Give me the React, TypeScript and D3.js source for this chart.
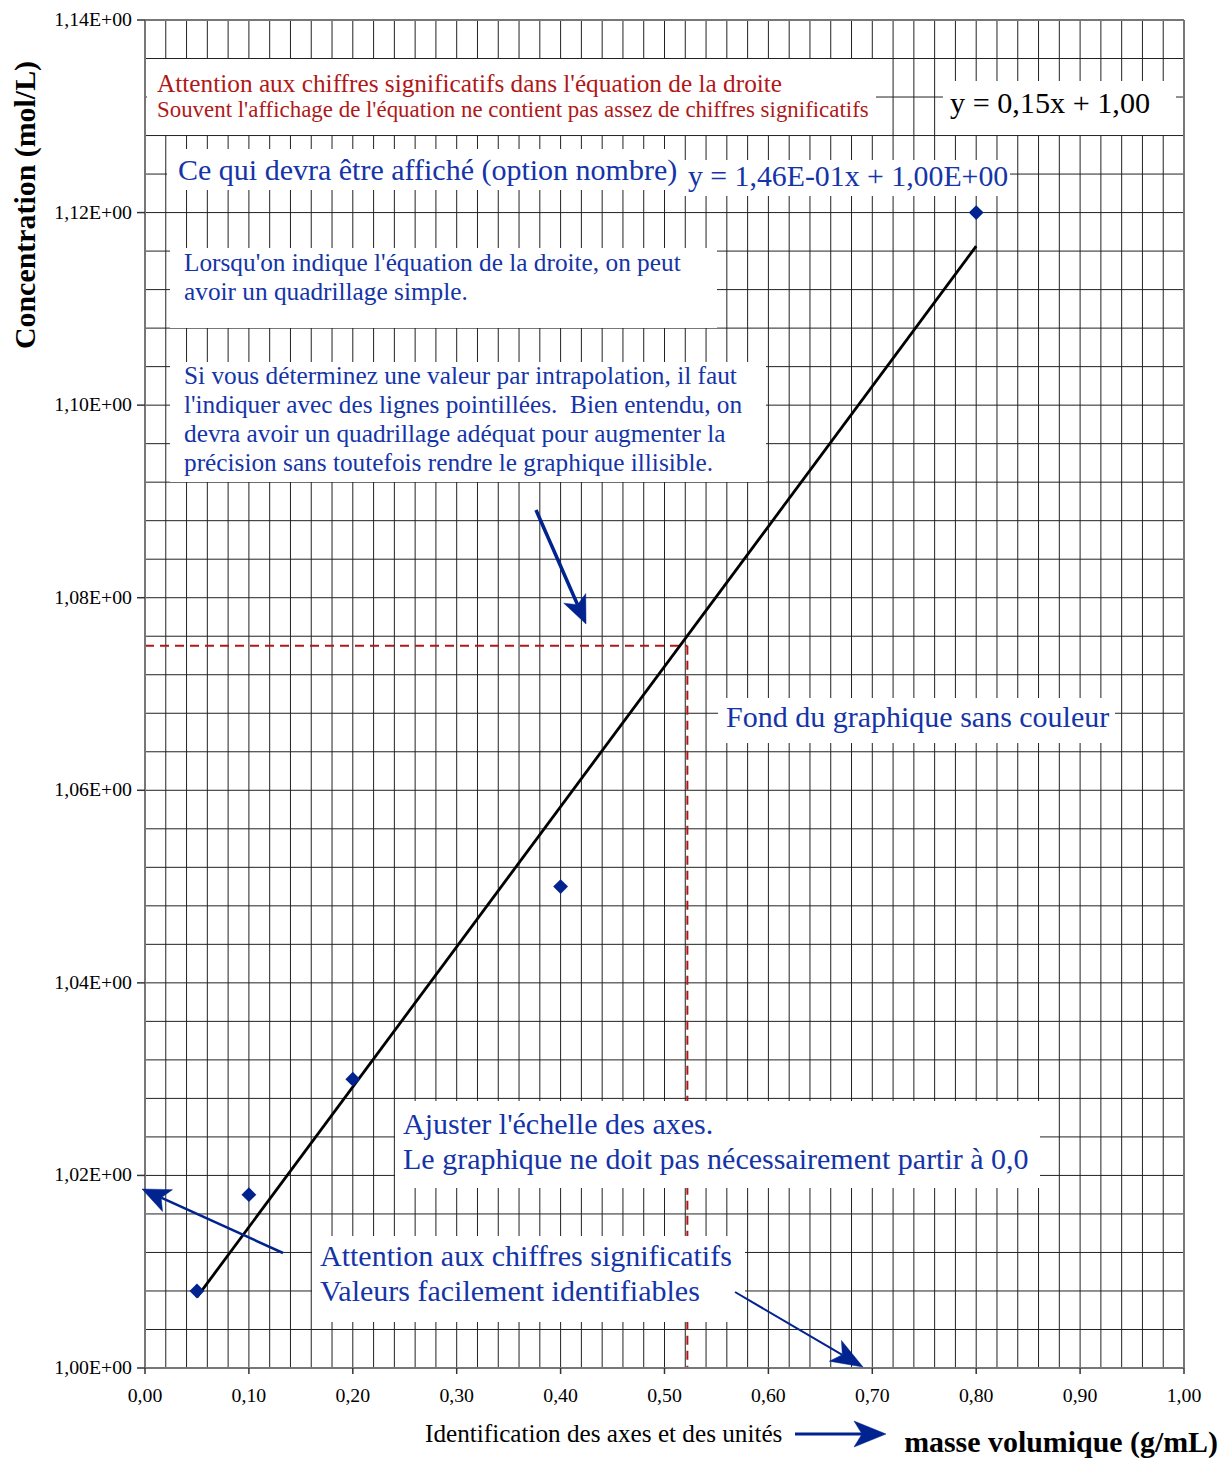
import React from "react";
import * as d3 from "d3";

// ---- data ----
const massX: number[] = [0.05, 0.1, 0.2, 0.4, 0.8];
const concY: number[] = [1.008, 1.018, 1.03, 1.05, 1.12];
const xTicks: number[] = [0, 0.1, 0.2, 0.3, 0.4, 0.5, 0.6, 0.7, 0.8, 0.9, 1.0];
const yTicks: number[] = [1.0, 1.02, 1.04, 1.06, 1.08, 1.1, 1.12, 1.14];
const interpPoint: [number, number] = [0.522, 1.075];

const W = 1224;
const H = 1458;
const FONT = "'Liberation Serif', 'Times New Roman', serif";
const BLUE = "#1434a8";
const RED = "#b01818";
const NAVY = "#00238f";

const S = 25.3; // small annotation size
const L = 30; // large annotation size

type Box = {
  x0: number; x1: number; y0: number; y1: number;
  lines: { t: string; x: number; y: number; size: number; color: string }[];
};

const boxes: Box[] = [
  {
    x0: 147, x1: 876, y0: 59, y1: 135,
    lines: [
      { t: "Attention aux chiffres significatifs dans l'équation de la droite", x: 157, y: 92, size: S, color: RED },
      { t: "Souvent l'affichage de l'équation ne contient pas assez de chiffres significatifs", x: 157, y: 117, size: 22.9, color: RED },
    ],
  },
  {
    x0: 943, x1: 1176, y0: 81, y1: 135,
    lines: [{ t: "y = 0,15x + 1,00", x: 950, y: 113, size: 30.2, color: "#000" }],
  },
  {
    x0: 167, x1: 683, y0: 149, y1: 190,
    lines: [{ t: "Ce qui devra être affiché (option nombre)", x: 178, y: 180, size: L, color: BLUE }],
  },
  {
    x0: 683, x1: 1010, y0: 160, y1: 196,
    lines: [{ t: "y = 1,46E-01x + 1,00E+00", x: 688, y: 186, size: 29.8, color: BLUE }],
  },
  {
    x0: 170, x1: 717, y0: 248, y1: 328,
    lines: [
      { t: "Lorsqu'on indique l'équation de la droite, on peut", x: 184, y: 271, size: S, color: BLUE },
      { t: "avoir un quadrillage simple.", x: 184, y: 300, size: S, color: BLUE },
    ],
  },
  {
    x0: 170, x1: 766, y0: 362, y1: 482,
    lines: [
      { t: "Si vous déterminez une valeur par intrapolation, il faut", x: 184, y: 384, size: S, color: BLUE },
      { t: "l'indiquer avec des lignes pointillées.  Bien entendu, on", x: 184, y: 413, size: S, color: BLUE },
      { t: "devra avoir un quadrillage adéquat pour augmenter la", x: 184, y: 442, size: S, color: BLUE },
      { t: "précision sans toutefois rendre le graphique illisible.", x: 184, y: 471, size: S, color: BLUE },
    ],
  },
  {
    x0: 718, x1: 1115, y0: 698, y1: 743,
    lines: [{ t: "Fond du graphique sans couleur", x: 726, y: 727, size: L, color: BLUE }],
  },
  {
    x0: 395, x1: 1040, y0: 1101, y1: 1188,
    lines: [
      { t: "Ajuster l'échelle des axes.", x: 403, y: 1134, size: L, color: BLUE },
      { t: "Le graphique ne doit pas nécessairement partir à 0,0", x: 403, y: 1169, size: L, color: BLUE },
    ],
  },
  {
    x0: 312, x1: 745, y0: 1236, y1: 1322,
    lines: [
      { t: "Attention aux chiffres significatifs", x: 320, y: 1266, size: L, color: BLUE },
      { t: "Valeurs facilement identifiables", x: 320, y: 1301, size: L, color: BLUE },
    ],
  },
];

const arrows = [
  { x1: 536, y1: 510, x2: 586, y2: 624, w: 3.5, hl: 28, hw: 24 },
  { x1: 283, y1: 1253, x2: 142, y2: 1189, w: 2.5, hl: 28, hw: 24 },
  { x1: 735, y1: 1292, x2: 863, y2: 1367, w: 2, hl: 32, hw: 24 },
  { x1: 795, y1: 1434, x2: 886, y2: 1434, w: 3, hl: 32, hw: 26 },
];

function arrowHead(a: { x1: number; y1: number; x2: number; y2: number; hl: number; hw: number }) {
  const dx = a.x2 - a.x1;
  const dy = a.y2 - a.y1;
  const len = Math.hypot(dx, dy);
  const ux = dx / len, uy = dy / len;
  const px = -uy, py = ux;
  const bx = a.x2 - ux * a.hl, by = a.y2 - uy * a.hl;
  const nx = a.x2 - ux * a.hl * 0.75, ny = a.y2 - uy * a.hl * 0.75;
  return [
    [a.x2, a.y2],
    [bx + px * a.hw / 2, by + py * a.hw / 2],
    [nx, ny],
    [bx - px * a.hw / 2, by - py * a.hw / 2],
  ].map((p) => p.join(",")).join(" ");
}

export default function App() {
  const x = d3.scaleLinear().domain([0, 1]).range([145, 1184]);
  const y = d3.scaleLinear().domain([1.0, 1.14]).range([1368, 20]);

  const vGrid = d3.range(0, 51).map((i) => i * 0.02);
  const hGrid = d3.range(0, 36).map((i) => 1.0 + i * 0.004);

  // least-squares trend line from the data
  const mx = d3.mean(massX)!;
  const my = d3.mean(concY)!;
  const sxy = d3.sum(massX.map((v, i) => (v - mx) * (concY[i] - my)));
  const sxx = d3.sum(massX.map((v) => (v - mx) ** 2));
  const slope = sxy / sxx;
  const intercept = my - slope * mx;
  const xmin = d3.min(massX)!;
  const xmax = d3.max(massX)!;
  const trend = d3.line<number>().x((v) => x(v)).y((v) => y(slope * v + intercept))([xmin, xmax]) || "";

  const fmtY = (v: number) => d3.format(".2f")(v).replace(".", ",") + "E+00";
  const fmtX = (v: number) => d3.format(".2f")(v).replace(".", ",");

  const diamond = d3.symbol().type(d3.symbolDiamond2).size(140)() || "";

  return (
    <div style={{ position: "absolute", left: 0, top: 0 }}>
      <svg width={W} height={H} style={{ display: "block", background: "#fff" }} fontFamily={FONT}>
        <rect x={0} y={0} width={W} height={H} fill="#fff" />
        {/* grid */}
        <g stroke="#222" strokeWidth={1}>
          {vGrid.map((v, i) => (
            <line key={"v" + i} x1={x(v)} x2={x(v)} y1={y(1.14)} y2={y(1.0)} />
          ))}
          {hGrid.map((v, i) => (
            <line key={"h" + i} x1={x(0)} x2={x(1)} y1={y(v)} y2={y(v)} />
          ))}
        </g>
        {/* interpolation dashed lines */}
        <g stroke={RED} strokeWidth={2} strokeDasharray="9,6" fill="none">
          <line x1={x(0)} x2={x(interpPoint[0])} y1={y(interpPoint[1])} y2={y(interpPoint[1])} />
          <line x1={x(interpPoint[0])} x2={x(interpPoint[0])} y1={y(interpPoint[1])} y2={y(1.0)} />
        </g>
        {/* trend line */}
        <path d={trend} stroke="#000" strokeWidth={2.8} fill="none" />
        {/* markers */}
        {massX.map((v, i) => (
          <path key={"m" + i} d={diamond} transform={`translate(${x(v)},${y(concY[i])})`} fill={NAVY} />
        ))}
        {/* annotation boxes */}
        {boxes.map((b, i) => (
          <g key={"b" + i}>
            <rect x={b.x0} y={b.y0} width={b.x1 - b.x0} height={b.y1 - b.y0} fill="#fff" />
            {b.lines.map((l, j) => (
              <text key={j} x={l.x} y={l.y} fontSize={l.size} fill={l.color} style={{ whiteSpace: "pre" }}>
                {l.t}
              </text>
            ))}
          </g>
        ))}
        {/* axes frame */}
        <g stroke="#777" strokeWidth={2} fill="none">
          <line x1={x(0)} x2={x(0)} y1={y(1.14)} y2={y(1.0)} />
          <line x1={x(0)} x2={x(1)} y1={y(1.0)} y2={y(1.0)} />
          <line x1={x(1)} x2={x(1)} y1={y(1.14)} y2={y(1.0)} />
          <line x1={x(0)} x2={x(1)} y1={y(1.14)} y2={y(1.14)} />
        </g>
        <g stroke="#333" strokeWidth={1.5}>
          {yTicks.map((v, i) => (
            <line key={"yt" + i} x1={x(0) - 8} x2={x(0)} y1={y(v)} y2={y(v)} />
          ))}
          {xTicks.map((v, i) => (
            <line key={"xt" + i} x1={x(v)} x2={x(v)} y1={y(1.0)} y2={y(1.0) + 6} />
          ))}
        </g>
        {/* tick labels */}
        {yTicks.map((v, i) => (
          <text key={"yl" + i} x={132} y={y(v) + 6} fontSize={19.8} textAnchor="end" fill="#000">
            {fmtY(v)}
          </text>
        ))}
        {xTicks.map((v, i) => (
          <text key={"xl" + i} x={x(v)} y={1402} fontSize={19.8} textAnchor="middle" fill="#000">
            {fmtX(v)}
          </text>
        ))}
        {/* axis titles */}
        <text
          transform={`translate(35,205) rotate(-90)`}
          textAnchor="middle"
          fontSize={29.9}
          fontWeight="bold"
          fill="#000"
        >
          Concentration (mol/L)
        </text>
        <text x={1218} y={1452} textAnchor="end" fontSize={29.9} fontWeight="bold" fill="#000">
          masse volumique (g/mL)
        </text>
        <text x={425} y={1442} fontSize={25.2} fill="#000">
          Identification des axes et des unités
        </text>
        {/* arrows */}
        {arrows.map((a, i) => {
          const len = Math.hypot(a.x2 - a.x1, a.y2 - a.y1);
          const t = (len - a.hl * 0.75) / len;
          return (
            <g key={"a" + i} fill={NAVY} stroke={NAVY}>
              <line
                x1={a.x1}
                y1={a.y1}
                x2={a.x1 + (a.x2 - a.x1) * t}
                y2={a.y1 + (a.y2 - a.y1) * t}
                strokeWidth={a.w}
              />
              <polygon points={arrowHead(a)} strokeWidth={0.5} />
            </g>
          );
        })}
      </svg>
    </div>
  );
}
